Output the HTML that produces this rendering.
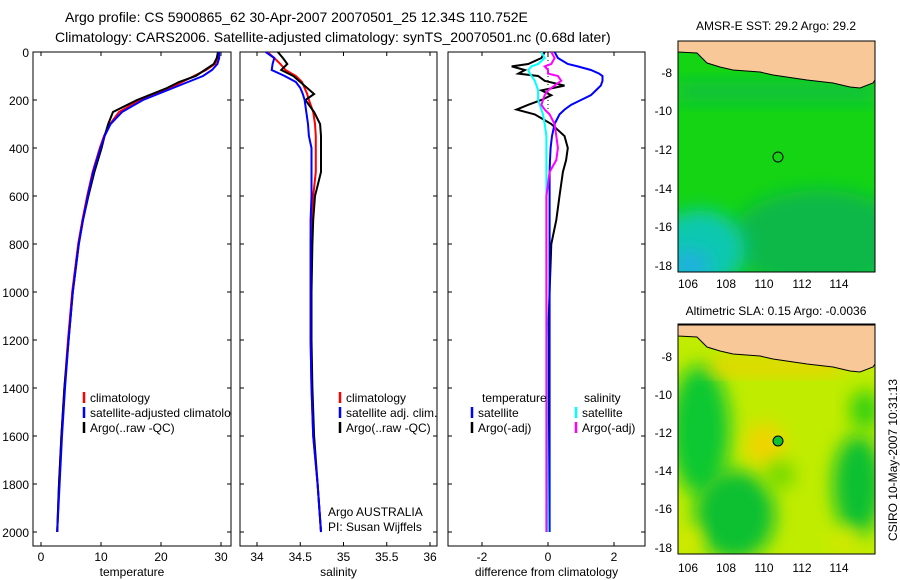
<!DOCTYPE html>
<html><head><meta charset="utf-8"><style>
body{margin:0;background:#fff;}
svg{display:block;font-family:"Liberation Sans",sans-serif;}
</style></head><body>
<svg id="fig" width="900" height="580" viewBox="0 0 900 580">
<defs>
<filter id="blur8" x="-50%" y="-50%" width="200%" height="200%"><feGaussianBlur stdDeviation="9"/></filter>
<clipPath id="cp1"><rect x="33" y="52" width="198" height="494"/></clipPath>
<clipPath id="cp2"><rect x="240" y="52" width="197" height="494"/></clipPath>
<clipPath id="cp3"><rect x="448" y="52" width="197" height="494"/></clipPath>
<clipPath id="cpm1"><rect x="678" y="41" width="197" height="231"/></clipPath>
<clipPath id="cpm2"><rect x="678" y="324" width="197" height="230"/></clipPath>
</defs>
<text x="65" y="22" font-size="14">Argo profile: CS 5900865_62 30-Apr-2007 20070501_25 12.34S 110.752E</text>
<text x="55" y="42" font-size="14">Climatology: CARS2006. Satellite-adjusted climatology: synTS_20070501.nc (0.68d later)</text>
<g id="p1"></g>
<g id="p2"></g>
<g id="p3"></g>

<text x="776" y="30" font-size="12" text-anchor="middle">AMSR-E SST: 29.2 Argo: 29.2</text>
<g clip-path="url(#cpm1)">
<rect x="678" y="41" width="197" height="231" fill="#14d414"/>
<ellipse cx="820" cy="240" rx="90" ry="50" fill="#0cb848" filter="url(#blur8)"/>
<ellipse cx="700" cy="250" rx="45" ry="40" fill="#10c8b0" filter="url(#blur8)"/>
<ellipse cx="690" cy="265" rx="20" ry="15" fill="#20b0e0" filter="url(#blur8)"/>
<rect x="678" y="82" width="197" height="20" fill="#10c040" filter="url(#blur8)"/>
<path id="land1" d="M678,41 L678,52 L697,53 L707,63 L720,67 L733,70 L760,72 L773,75 L807,80 L833,83 L850,87 L860,88 L873,83 L875,80 L875,41 Z" fill="#f8c898" stroke="#000" stroke-width="1"/>
<circle cx="778" cy="157" r="5" fill="none" stroke="#000"/>
</g>
<rect x="678" y="41" width="197" height="231" fill="none" stroke="#000"/>
<g font-size="12">
<text x="688" y="288" text-anchor="middle">106</text><text x="726" y="288" text-anchor="middle">108</text><text x="764" y="288" text-anchor="middle">110</text><text x="802" y="288" text-anchor="middle">112</text><text x="839" y="288" text-anchor="middle">114</text>
<text x="672" y="77" text-anchor="end">-8</text><text x="672" y="115" text-anchor="end">-10</text><text x="672" y="154" text-anchor="end">-12</text><text x="672" y="193" text-anchor="end">-14</text><text x="672" y="231" text-anchor="end">-16</text><text x="672" y="270" text-anchor="end">-18</text>
</g>

<text x="776" y="315" font-size="12" text-anchor="middle">Altimetric SLA: 0.15 Argo: -0.0036</text>
<g clip-path="url(#cpm2)">
<rect x="678" y="324" width="197" height="230" fill="#c0ec00"/>
<ellipse cx="700" cy="430" rx="30" ry="65" fill="#10c830" filter="url(#blur8)"/>
<ellipse cx="735" cy="515" rx="40" ry="45" fill="#10c030" filter="url(#blur8)"/>
<ellipse cx="858" cy="485" rx="25" ry="50" fill="#10c030" filter="url(#blur8)"/>
<ellipse cx="865" cy="410" rx="15" ry="20" fill="#30d010" filter="url(#blur8)"/>
<ellipse cx="765" cy="445" rx="20" ry="22" fill="#f0d400" filter="url(#blur8)"/>
<ellipse cx="780" cy="475" rx="15" ry="14" fill="#70d800" filter="url(#blur8)"/>
<rect x="710" y="360" width="130" height="14" fill="#f0d000" filter="url(#blur8)"/>
<ellipse cx="690" cy="540" rx="12" ry="14" fill="#d8e800" filter="url(#blur8)"/>
<ellipse cx="845" cy="540" rx="14" ry="12" fill="#d8e800" filter="url(#blur8)"/>
<use href="#land1" transform="translate(0,284)"/>
<circle cx="778" cy="441" r="5" fill="#10c030" stroke="#000"/>
</g>
<rect x="678" y="324" width="197" height="230" fill="none" stroke="#000"/>
<g font-size="12">
<text x="688" y="572" text-anchor="middle">106</text><text x="726" y="572" text-anchor="middle">108</text><text x="764" y="572" text-anchor="middle">110</text><text x="802" y="572" text-anchor="middle">112</text><text x="839" y="572" text-anchor="middle">114</text>
<text x="672" y="361" text-anchor="end">-8</text><text x="672" y="399" text-anchor="end">-10</text><text x="672" y="437" text-anchor="end">-12</text><text x="672" y="475" text-anchor="end">-14</text><text x="672" y="513" text-anchor="end">-16</text><text x="672" y="552" text-anchor="end">-18</text>
</g>
<text transform="translate(897,460) rotate(-90)" font-size="12" text-anchor="middle">CSIRO 10-May-2007 10:31:13</text>
</svg>
<script>
const depth=[0,25,50,75,100,125,150,175,200,250,300,350,400,500,600,700,800,1000,1200,1400,1600,1800,2000];
const tClim=[29.6,29.5,29.0,27.5,25.5,23.5,21.5,19.0,16.5,13.0,11.5,10.5,9.8,8.6,7.7,6.9,6.2,5.2,4.5,3.9,3.4,3.0,2.7];
const tSat=[29.7,29.7,29.4,28.5,27.0,24.5,22.0,19.5,17.0,13.5,11.6,10.6,9.9,8.7,7.8,7.0,6.3,5.3,4.6,4.0,3.5,3.1,2.7];
const tArgo=[29.5,29.3,28.8,27.3,25.8,23.0,21.0,18.5,16.0,12.0,11.2,10.6,10.1,8.9,7.9,7.0,6.3,5.3,4.6,3.9,3.4,3.0,2.7];
const sClim=[34.12,34.2,34.27,34.33,34.45,34.52,34.55,34.58,34.6,34.65,34.67,34.68,34.68,34.68,34.65,34.63,34.62,34.62,34.62,34.63,34.65,34.7,34.74];
const sSat=[34.1,34.2,34.18,34.17,34.32,34.45,34.5,34.53,34.55,34.57,34.59,34.6,34.63,34.63,34.63,34.62,34.62,34.62,34.62,34.63,34.65,34.7,34.74];
const sArgo=[34.24,34.3,34.35,34.28,34.42,34.5,34.58,34.66,34.56,34.66,34.73,34.74,34.74,34.74,34.67,34.65,34.64,34.63,34.63,34.64,34.66,34.7,34.74];
const depthD=[0,25,50,60,75,90,100,120,140,160,180,200,220,240,260,300,350,400,450,500,600,700,800,1000,1200,1500,2000];
const dTSat=[0.2,0.3,0.6,0.9,1.3,1.55,1.65,1.65,1.6,1.45,1.3,1.0,0.7,0.5,0.35,0.2,0.12,0.08,0.06,0.05,0.05,0.05,0.05,0.05,0.05,0.05,0.05];
const dTArgo=[-0.1,-0.2,-0.6,-1.1,-0.7,-0.9,-0.3,-0.1,0.5,-0.2,0.1,-0.2,-0.6,-0.95,-0.4,0.1,0.5,0.6,0.55,0.45,0.35,0.25,0.1,0.05,0.0,0.0,0.0];
const dSSat=[-0.2,-0.1,-0.3,-0.5,-0.6,-0.55,-0.5,-0.4,-0.35,-0.3,-0.3,-0.3,-0.25,-0.2,-0.15,-0.1,-0.05,-0.05,-0.05,-0.05,-0.05,-0.05,-0.05,-0.05,-0.03,-0.03,0.0];
const dSArgo=[0.1,0.2,0.1,-0.1,0.0,0.0,0.3,0.4,0.2,0.0,-0.1,-0.15,-0.2,-0.1,0.05,0.2,0.25,0.3,0.25,0.05,-0.05,-0.05,-0.05,-0.05,-0.05,-0.05,-0.05];
const depthTicks=[0,200,400,600,800,1000,1200,1400,1600,1800,2000];
const tTicks=[0,10,20,30];
const sTicks=[34,34.5,35,35.5,36];
const sTickLabels=['34','34.5','35','35.5','36'];
const dTicks=[-2,0,2];

const NS='http://www.w3.org/2000/svg';
const Y0=52,YB=546;
const yD=d=>Y0+d*0.24;
function mk(tag,attrs,parent){const e=document.createElementNS(NS,tag);for(const k in attrs)e.setAttribute(k,attrs[k]);parent.appendChild(e);return e;}
function panel(g,x0,x1,xs,ticks,labels,label,clip,showY){
  mk('rect',{x:x0,y:Y0,width:x1-x0,height:YB-Y0,fill:'none',stroke:'#000'},g);
  ticks.forEach((t,i)=>{const x=xs(t);
    mk('line',{x1:x,x2:x,y1:YB,y2:YB-4,stroke:'#000'},g);
    mk('line',{x1:x,x2:x,y1:Y0,y2:Y0+4,stroke:'#000'},g);
    const tx=mk('text',{x:x,y:561,'font-size':12,'text-anchor':'middle'},g);tx.textContent=labels[i];
    
    
  });
  depthTicks.forEach(d=>{const y=yD(d);
    mk('line',{x1:x0,x2:x0+4,y1:y,y2:y,stroke:'#000'},g);
    mk('line',{x1:x1,x2:x1-4,y1:y,y2:y,stroke:'#000'},g);
    if(showY){const t=mk('text',{x:x0-4,y:y+5,'font-size':12,'text-anchor':'end'},g);t.textContent=d;
      
      }
  });
  const xl=mk('text',{x:(x0+x1)/2,y:576,'font-size':12,'text-anchor':'middle'},g);xl.textContent=label;
  
  
  return mk('g',{'clip-path':'url(#'+clip+')'},g);
}
function line(g,xs,vals,deps,color,name,w){
  const p=vals.map((v,i)=>xs(v).toFixed(1)+','+yD(deps[i]).toFixed(1)).join(' ');
  const pl=mk('polyline',{points:p,fill:'none',stroke:color,'stroke-width':w||2},g);
  
  
}
function legend(g,x,y,color,text){
  mk('line',{x1:x,x2:x,y1:y-10,y2:y+1,stroke:color,'stroke-width':2.5},g);
  const t=mk('text',{x:x+6,y:y,'font-size':12},g);t.textContent=text;
  
  
}
const g1=document.getElementById('p1');
const xT=v=>41+v*6;
const c1=panel(g1,33,231,xT,tTicks,tTicks.map(String),'temperature','cp1',true);
line(c1,xT,tClim,depth,'#f00','temp-climatology-line');
line(c1,xT,tArgo,depth,'#000','temp-argo-line');
line(c1,xT,tSat,depth,'#00f','temp-satellite-line');
const l1=mk('g',{'clip-path':'url(#cp1)'},g1);
legend(l1,84,402,'#f00','climatology');legend(l1,84,417,'#00f','satellite-adjusted climatology');legend(l1,84,432,'#000','Argo(..raw -QC)');
const g2=document.getElementById('p2');
const xS=v=>257+(v-34)*86.5;
const c2=panel(g2,240,437,xS,sTicks,sTickLabels,'salinity','cp2',false);
line(c2,xS,sClim,depth,'#f00','sal-climatology-line');
line(c2,xS,sArgo,depth,'#000','sal-argo-line');
line(c2,xS,sSat,depth,'#00f','sal-satellite-line');
legend(g2,340,402,'#f00','climatology');legend(g2,340,417,'#00f','satellite adj. clim.');legend(g2,340,432,'#000','Argo(..raw -QC)');
[['Argo AUSTRALIA',516],['PI: Susan Wijffels',531]].forEach(([s,y])=>{const t=mk('text',{x:328,y:y,'font-size':12},g2);t.textContent=s;
  
  });
const g3=document.getElementById('p3');
const xDf=v=>548+v*33;
const c3=panel(g3,448,645,xDf,dTicks,dTicks.map(String),'difference from climatology','cp3',false);
mk('line',{x1:xDf(0),x2:xDf(0),y1:Y0,y2:yD(260),stroke:'#000','stroke-dasharray':'1,3'},c3);
line(c3,xDf,dTArgo,depthD,'#000','temp-argo-diff-line');
line(c3,xDf,dTSat,depthD,'#00f','temp-satellite-diff-line');
line(c3,xDf,dSSat,depthD,'#0ff','sal-satellite-diff-line');
line(c3,xDf,dSArgo,depthD,'#f0f','sal-argo-diff-line');
let t=mk('text',{x:482,y:402,'font-size':12},g3);t.textContent='temperature';


t=mk('text',{x:584,y:402,'font-size':12},g3);t.textContent='salinity';


legend(g3,472,417,'#00f','satellite');legend(g3,472,432,'#000','Argo(-adj)');
legend(g3,576,417,'#0ff','satellite');legend(g3,576,432,'#f0f','Argo(-adj)');
</script>
</body></html>
